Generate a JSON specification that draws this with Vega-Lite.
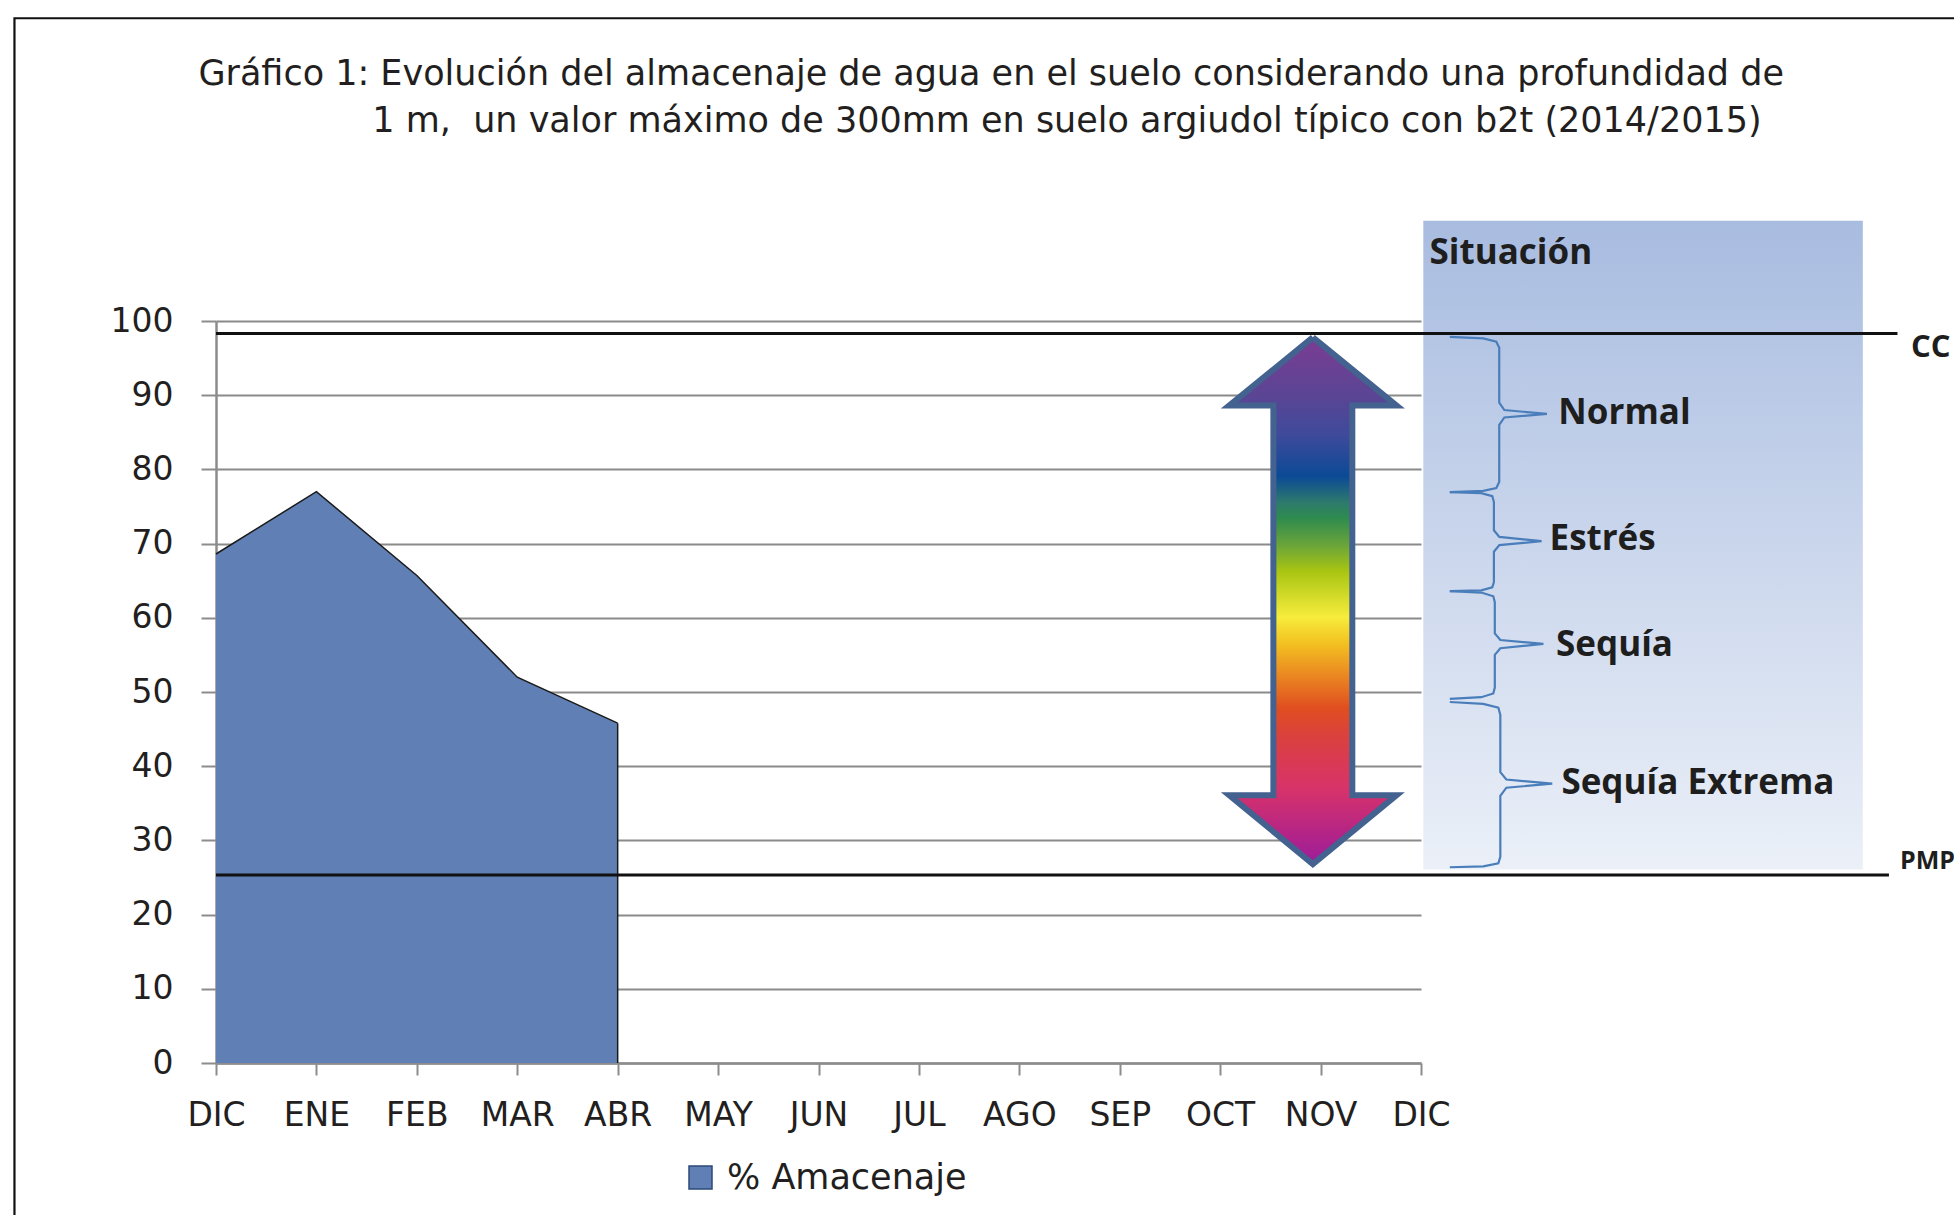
{
  "$schema": "https://vega.github.io/schema/vega-lite/v6.json",
  "width": 1205,
  "height": 742,
  "autosize": {"type": "none"},
  "padding": {"left": 216, "top": 321, "right": 533, "bottom": 152},
  "background": "white",
  "config": {"view": {"stroke": null}, "font": "DejaVu Sans"},
  "title": {
    "text": [
      "Gráfico 1: Evolución del almacenaje de agua en el suelo considerando una profundidad de",
      "\u200b\u00a0\u00a0\u00a0\u00a0\u00a0\u00a0\u00a0\u00a0\u00a0\u00a0\u00a0\u00a0\u00a0\u00a0\u00a0\u20091 m,\u00a0 un valor máximo de 300mm en suelo argiudol típico con b2t (2014/2015)"
    ],
    "anchor": "start",
    "frame": "group",
    "orient": "top",
    "baseline": "alphabetic",
    "offset": -150,
    "lineHeight": 46.7,
    "dx": -17.6,
    "font": "DejaVu Sans",
    "fontSize": 35,
    "fontWeight": "normal",
    "color": "#231F20"
  },
  "datasets": {
    "frame": [{"x": -2.007, "x2": 20, "y": -30, "y2": 140.8}],
    "panel": [{"x": 12.023, "x2": 16.4, "y": 26.08, "y2": 113.5}],
    "storage": [
      {"mes": "DIC", "x": 0, "y": 68.6},
      {"mes": "ENE", "x": 1, "y": 77.0},
      {"mes": "FEB", "x": 2, "y": 65.7},
      {"mes": "MAR", "x": 3, "y": 52.0},
      {"mes": "ABR", "x": 4, "y": 45.8}
    ],
    "arrow": [
      {"i": 1, "x": 10.923, "y": 97.8},
      {"i": 2, "x": 11.756, "y": 88.6},
      {"i": 3, "x": 11.316, "y": 88.6},
      {"i": 4, "x": 11.316, "y": 36.1},
      {"i": 5, "x": 11.756, "y": 36.1},
      {"i": 6, "x": 10.923, "y": 26.8},
      {"i": 7, "x": 10.09, "y": 36.1},
      {"i": 8, "x": 10.53, "y": 36.1},
      {"i": 9, "x": 10.53, "y": 88.6},
      {"i": 10, "x": 10.09, "y": 88.6},
      {"i": 11, "x": 10.923, "y": 97.8}
    ],
    "braces": [
      {"brace": "Normal", "i": 1, "x": 12.287, "y": 97.85},
      {"brace": "Normal", "i": 2, "x": 12.62, "y": 97.65},
      {"brace": "Normal", "i": 3, "x": 12.75, "y": 97.2},
      {"brace": "Normal", "i": 4, "x": 12.779, "y": 96.4},
      {"brace": "Normal", "i": 5, "x": 12.779, "y": 89.0},
      {"brace": "Normal", "i": 6, "x": 12.83, "y": 88.0},
      {"brace": "Normal", "i": 7, "x": 13.254, "y": 87.48},
      {"brace": "Normal", "i": 8, "x": 12.83, "y": 87.0},
      {"brace": "Normal", "i": 9, "x": 12.779, "y": 86.0},
      {"brace": "Normal", "i": 10, "x": 12.779, "y": 78.3},
      {"brace": "Normal", "i": 11, "x": 12.75, "y": 77.5},
      {"brace": "Normal", "i": 12, "x": 12.62, "y": 77.1},
      {"brace": "Normal", "i": 13, "x": 12.287, "y": 76.95},
      {"brace": "Estres", "i": 1, "x": 12.287, "y": 76.95},
      {"brace": "Estres", "i": 2, "x": 12.6, "y": 76.8},
      {"brace": "Estres", "i": 3, "x": 12.71, "y": 76.4},
      {"brace": "Estres", "i": 4, "x": 12.726, "y": 75.6},
      {"brace": "Estres", "i": 5, "x": 12.726, "y": 71.8},
      {"brace": "Estres", "i": 6, "x": 12.78, "y": 70.9},
      {"brace": "Estres", "i": 7, "x": 13.201, "y": 70.33},
      {"brace": "Estres", "i": 8, "x": 12.78, "y": 69.8},
      {"brace": "Estres", "i": 9, "x": 12.726, "y": 68.9},
      {"brace": "Estres", "i": 10, "x": 12.726, "y": 64.8},
      {"brace": "Estres", "i": 11, "x": 12.71, "y": 64.1},
      {"brace": "Estres", "i": 12, "x": 12.6, "y": 63.7},
      {"brace": "Estres", "i": 13, "x": 12.287, "y": 63.59},
      {"brace": "Sequia", "i": 1, "x": 12.287, "y": 63.59},
      {"brace": "Sequia", "i": 2, "x": 12.6, "y": 63.4},
      {"brace": "Sequia", "i": 3, "x": 12.72, "y": 62.9},
      {"brace": "Sequia", "i": 4, "x": 12.735, "y": 62.1},
      {"brace": "Sequia", "i": 5, "x": 12.735, "y": 57.9},
      {"brace": "Sequia", "i": 6, "x": 12.79, "y": 57.0},
      {"brace": "Sequia", "i": 7, "x": 13.219, "y": 56.48},
      {"brace": "Sequia", "i": 8, "x": 12.79, "y": 55.9},
      {"brace": "Sequia", "i": 9, "x": 12.735, "y": 55.0},
      {"brace": "Sequia", "i": 10, "x": 12.735, "y": 50.6},
      {"brace": "Sequia", "i": 11, "x": 12.72, "y": 49.8},
      {"brace": "Sequia", "i": 12, "x": 12.6, "y": 49.3},
      {"brace": "Sequia", "i": 13, "x": 12.287, "y": 49.08},
      {"brace": "Extrema", "i": 1, "x": 12.287, "y": 48.65},
      {"brace": "Extrema", "i": 2, "x": 12.62, "y": 48.4},
      {"brace": "Extrema", "i": 3, "x": 12.77, "y": 47.9},
      {"brace": "Extrema", "i": 4, "x": 12.79, "y": 46.9},
      {"brace": "Extrema", "i": 5, "x": 12.79, "y": 39.2},
      {"brace": "Extrema", "i": 6, "x": 12.85, "y": 38.2},
      {"brace": "Extrema", "i": 7, "x": 13.307, "y": 37.64},
      {"brace": "Extrema", "i": 8, "x": 12.85, "y": 37.1},
      {"brace": "Extrema", "i": 9, "x": 12.79, "y": 36.0},
      {"brace": "Extrema", "i": 10, "x": 12.79, "y": 27.8},
      {"brace": "Extrema", "i": 11, "x": 12.77, "y": 26.9},
      {"brace": "Extrema", "i": 12, "x": 12.62, "y": 26.5},
      {"brace": "Extrema", "i": 13, "x": 12.287, "y": 26.38}
    ],
    "situacion": [
      {"label": "Situación", "x": 12.085, "y": 107.66},
      {"label": "Normal", "x": 13.368, "y": 86.1},
      {"label": "Estrés", "x": 13.28, "y": 69.13},
      {"label": "Sequía", "x": 13.345, "y": 54.86},
      {"label": "Sequía Extrema", "x": 13.398, "y": 36.2}
    ],
    "cc_label": [{"label": "CC", "x": 16.88, "y": 95.2}],
    "pmp_label": [{"label": "PMP", "x": 16.77, "y": 26.08}],
    "limits": [
      {"nombre": "CC", "x": 0, "x2": 16.745, "y": 98.3},
      {"nombre": "PMP", "x": 0, "x2": 16.66, "y": 25.35}
    ]
  },
  "encoding": {
    "x": {
      "field": "x", "type": "quantitative",
      "scale": {"domain": [0, 12], "nice": false, "zero": false},
      "axis": {
        "values": [0, 1, 2, 3, 4, 5, 6, 7, 8, 9, 10, 11, 12],
        "labelExpr": "['DIC','ENE','FEB','MAR','ABR','MAY','JUN','JUL','AGO','SEP','OCT','NOV','DIC'][datum.value]",
        "title": null, "grid": false,
        "domainColor": "#8C8C8C", "domainWidth": 2.5,
        "tickColor": "#8C8C8C", "tickWidth": 2, "tickSize": 12,
        "labelFont": "DejaVu Sans", "labelFontSize": 33, "labelColor": "#231F20",
        "labelPadding": 24, "labelFlush": false, "labelOverlap": false, "labelBound": false
      }
    },
    "y": {
      "field": "y", "type": "quantitative",
      "scale": {"domain": [0, 100], "nice": false},
      "axis": {
        "values": [0, 10, 20, 30, 40, 50, 60, 70, 80, 90, 100],
        "title": null, "grid": true, "gridColor": "#8A8A8A", "gridWidth": 2,
        "domainColor": "#8C8C8C", "domainWidth": 2.5,
        "tickColor": "#8C8C8C", "tickWidth": 2, "tickSize": 15,
        "labelFont": "DejaVu Sans", "labelFontSize": 33, "labelColor": "#231F20",
        "labelPadding": 28, "labelFlush": false, "labelOverlap": false
      }
    }
  },
  "layer": [
    {
      "data": {"name": "storage"},
      "mark": {"type": "area", "interpolate": "linear"},
      "encoding": {
        "color": {
          "datum": "% Amacenaje", "type": "nominal",
          "scale": {"range": ["#6080B5"]},
          "legend": {
            "title": null, "orient": "none", "legendX": 467, "legendY": 839,
            "direction": "horizontal", "symbolType": "square", "symbolSize": 529,
            "symbolStrokeColor": "#2B4A7A", "symbolStrokeWidth": 1.5,
            "labelFont": "DejaVu Sans", "labelFontSize": 35, "labelColor": "#231F20",
            "labelOffset": 9, "labelLimit": 500, "padding": 0
          }
        }
      }
    },
    {
      "data": {"name": "frame"},
      "mark": {"type": "rect", "fillOpacity": 0, "stroke": "#111111", "strokeWidth": 2.2},
      "encoding": {"x2": {"field": "x2"}, "y2": {"field": "y2"}}
    },
    {
      "data": {"name": "panel"},
      "mark": {
        "type": "rect",
        "fill": {
          "gradient": "linear", "x1": 0, "y1": 0, "x2": 0, "y2": 1,
          "stops": [
            {"offset": 0, "color": "#A8BCE0"},
            {"offset": 0.5, "color": "#CAD6EC"},
            {"offset": 1, "color": "#EBF0F8"}
          ]
        }
      },
      "encoding": {"x2": {"field": "x2"}, "y2": {"field": "y2"}}
    },
    {
      "data": {"name": "storage"},
      "mark": {"type": "line", "color": "#1A1A1A", "strokeWidth": 1.5},
      "encoding": {}
    },
    {
      "data": {"name": "storage"},
      "transform": [{"filter": "datum.x == 4"}],
      "mark": {"type": "rule", "color": "#1A1A1A", "strokeWidth": 1.5},
      "encoding": {"y2": {"datum": 0}}
    },
    {
      "data": {"name": "arrow"},
      "mark": {
        "type": "line",
        "stroke": "#44628F",
        "strokeWidth": 6,
        "strokeJoin": "miter",
        "strokeMiterLimit": 10,
        "fill": {
          "gradient": "linear", "x1": 0, "y1": 0, "x2": 0, "y2": 1,
          "stops": [
            {"offset": 0, "color": "#7B3C93"},
            {"offset": 0.112, "color": "#5A4594"},
            {"offset": 0.184, "color": "#3F4A9B"},
            {"offset": 0.264, "color": "#0B4A96"},
            {"offset": 0.314, "color": "#2E7A6C"},
            {"offset": 0.343, "color": "#2E8B4E"},
            {"offset": 0.394, "color": "#6AA43A"},
            {"offset": 0.444, "color": "#A8C512"},
            {"offset": 0.531, "color": "#F7EC3C"},
            {"offset": 0.581, "color": "#F3C121"},
            {"offset": 0.639, "color": "#EB8A21"},
            {"offset": 0.704, "color": "#E04E20"},
            {"offset": 0.762, "color": "#DA4040"},
            {"offset": 0.856, "color": "#D8336A"},
            {"offset": 0.942, "color": "#B42486"},
            {"offset": 1, "color": "#9B1E9B"}
          ]
        }
      },
      "encoding": {"order": {"field": "i", "type": "quantitative"}}
    },
    {
      "data": {"name": "braces"},
      "mark": {"type": "line", "color": "#4A7EBB", "strokeWidth": 2.2},
      "encoding": {
        "detail": {"field": "brace", "type": "nominal"},
        "order": {"field": "i", "type": "quantitative"}
      }
    },
    {
      "data": {"name": "situacion"},
      "mark": {"type": "text", "align": "left", "baseline": "alphabetic", "font": "Open Sans", "fontWeight": "bold", "fontSize": 35, "color": "#1E1E1E"},
      "encoding": {"text": {"field": "label"}}
    },
    {
      "data": {"name": "cc_label"},
      "mark": {"type": "text", "align": "left", "baseline": "alphabetic", "font": "Open Sans", "fontWeight": "bold", "fontSize": 31, "color": "#1E1E1E"},
      "encoding": {"text": {"field": "label"}}
    },
    {
      "data": {"name": "pmp_label"},
      "mark": {"type": "text", "align": "left", "baseline": "alphabetic", "font": "Open Sans", "fontWeight": "bold", "fontSize": 25, "color": "#1E1E1E"},
      "encoding": {"text": {"field": "label"}}
    },
    {
      "data": {"name": "limits"},
      "mark": {"type": "rule", "color": "#111111", "strokeWidth": 3},
      "encoding": {"x2": {"field": "x2"}}
    }
  ]
}
